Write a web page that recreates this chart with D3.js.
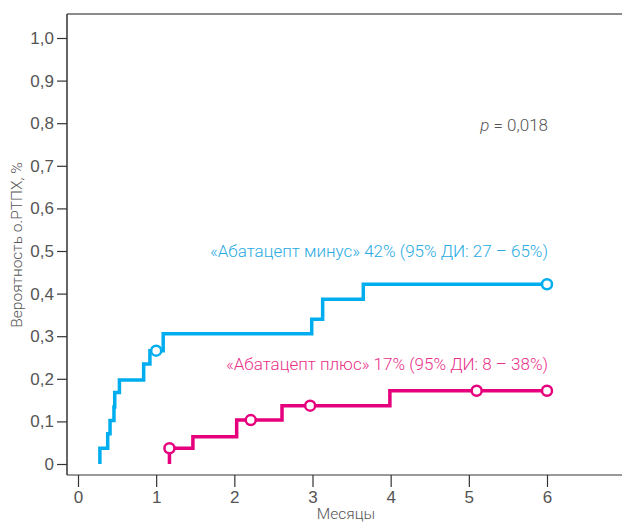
<!DOCTYPE html>
<html lang="ru">
<head>
    <meta charset="UTF-8">
    <title>Вероятность о.РТПХ</title>
    <script src="https://d3js.org/d3.v7.min.js"></script>
    <style>
        body { margin: 0; background: #fff; }
        svg { display: block; font-family: Roboto, 'Open Sans', sans-serif; }
        .tick text { font-size: 17px; fill: #555; font-weight: 300; }
        .axis-label { font-size: 15.5px; fill: #555; font-weight: 300; }
    </style>
</head>
<body>
    <svg id="chart" width="622" height="522"></svg>
    <script>
        // data
        const xTicks = [0, 1, 2, 3, 4, 5, 6];
        const yTicks = [0, 0.1, 0.2, 0.3, 0.4, 0.5, 0.6, 0.7, 0.8, 0.9, 1.0];

        const minusTime = [0.28, 0.28, 0.38, 0.41, 0.46, 0.47, 0.53, 0.84, 0.92, 1.09, 2.99, 3.13, 3.65, 6.0];
        const minusProb = [0, 0.037, 0.071, 0.102, 0.134, 0.168, 0.197, 0.235, 0.266, 0.306, 0.34, 0.387, 0.422, 0.422];
        const minusCensorTime = [1.0, 6.0];
        const minusCensorProb = [0.266, 0.422];

        const plusTime = [1.17, 1.17, 1.47, 2.03, 2.61, 3.99, 6.0];
        const plusProb = [0, 0.037, 0.064, 0.103, 0.137, 0.172, 0.172];
        const plusCensorTime = [1.17, 2.21, 2.97, 5.10, 6.0];
        const plusCensorProb = [0.037, 0.103, 0.137, 0.172, 0.172];

        const minusLabel = "«Абатацепт минус» 42% (95% ДИ: 27 – 65%)";
        const plusLabel = "«Абатацепт плюс» 17% (95% ДИ: 8 – 38%)";

        const blue = "#00aeef", pink = "#e6007e";
        const frame = { left: 67, top: 14, right: 622, bottom: 475 };

        const svg = d3.select("#chart");

        const x = d3.scaleLinear().domain([0, 6]).range([78, 547]);
        const y = d3.scaleLinear().domain([0, 1]).range([464, 38]);

        // top border
        svg.append("line")
           .attr("x1", frame.left).attr("x2", frame.right)
           .attr("y1", frame.top).attr("y2", frame.top)
           .attr("stroke", "#8c8c8c").attr("stroke-width", 2);

        // bottom axis line
        svg.append("line")
           .attr("x1", frame.left).attr("x2", frame.right)
           .attr("y1", frame.bottom).attr("y2", frame.bottom)
           .attr("stroke", "#777").attr("stroke-width", 1.5);

        // left axis line
        svg.append("line")
           .attr("x1", frame.left).attr("x2", frame.left)
           .attr("y1", frame.top).attr("y2", frame.bottom)
           .attr("stroke", "#333").attr("stroke-width", 1.5);

        const xAxis = svg.append("g")
           .attr("transform", `translate(0,${frame.bottom})`)
           .call(d3.axisBottom(x).tickValues(xTicks).tickSize(12).tickPadding(4).tickFormat(d3.format("d")));
        xAxis.select(".domain").remove();
        xAxis.selectAll(".tick line").attr("stroke", "#333").attr("stroke-width", 1.2);

        const yAxis = svg.append("g")
           .attr("transform", `translate(${frame.left},0)`)
           .call(d3.axisLeft(y).tickValues(yTicks).tickSize(10).tickPadding(3)
                 .tickFormat(d => d === 0 ? "0" : d3.format(".1f")(d).replace(".", ",")));
        yAxis.select(".domain").remove();
        yAxis.selectAll(".tick line").attr("stroke", "#333").attr("stroke-width", 1.2);

        svg.append("text")
           .attr("class", "axis-label")
           .attr("x", 346).attr("y", 519)
           .attr("text-anchor", "middle")
           .text("Месяцы");

        svg.append("text")
           .attr("class", "axis-label")
           .attr("transform", "translate(22,245) rotate(-90)")
           .attr("text-anchor", "middle")
           .text("Вероятность о.РТПХ, %");

        const line = d3.line()
            .x(d => x(d[0]))
            .y(d => y(d[1]))
            .curve(d3.curveStepAfter);

        function drawCurve(times, probs, cTimes, cProbs, color) {
            svg.append("path")
               .datum(times.map((t, i) => [t, probs[i]]))
               .attr("fill", "none")
               .attr("stroke", color)
               .attr("stroke-width", 3.5)
               .attr("d", line);

            svg.selectAll(null)
               .data(cTimes.map((t, i) => [t, cProbs[i]]))
               .enter()
               .append("circle")
               .attr("cx", d => x(d[0]))
               .attr("cy", d => y(d[1]))
               .attr("r", 5)
               .attr("fill", "#fff")
               .attr("stroke", color)
               .attr("stroke-width", 2.5);
        }

        drawCurve(minusTime, minusProb, minusCensorTime, minusCensorProb, blue);
        drawCurve(plusTime, plusProb, plusCensorTime, plusCensorProb, pink);

        svg.append("text")
           .attr("x", 548).attr("y", 257)
           .attr("text-anchor", "end")
           .attr("fill", "#29abe2")
           .style("font-size", "17px").style("font-weight", 300)
           .text(minusLabel);

        svg.append("text")
           .attr("x", 548).attr("y", 370)
           .attr("text-anchor", "end")
           .attr("fill", "#e8308a")
           .style("font-size", "17px").style("font-weight", 300)
           .text(plusLabel);

        const pText = svg.append("text")
           .attr("x", 548).attr("y", 131)
           .attr("text-anchor", "end")
           .attr("fill", "#555")
           .style("font-size", "17px").style("font-weight", 300);
        pText.append("tspan").style("font-style", "italic").text("p");
        pText.append("tspan").text(" = 0,018");
    </script>
</body>
</html>
